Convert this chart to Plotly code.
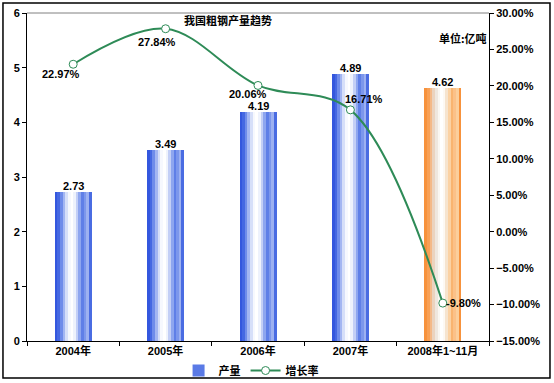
import plotly.graph_objects as go

categories = ["2004年", "2005年", "2006年", "2007年", "2008年1~11月"]
production = [2.73, 3.49, 4.19, 4.89, 4.62]
growth = [22.97, 27.84, 20.06, 16.71, -9.80]
production_labels = ["2.73", "3.49", "4.19", "4.89", "4.62"]
growth_labels = ["22.97%", "27.84%", "20.06%", "16.71%", "-9.80%"]

FONT = "Liberation Sans, Arial, Noto Sans CJK SC"
blue_stripes = ['#3457de', '#4568e2', '#6f8cea', '#a3b6f2', '#d6dff9', '#f6f8fe', '#ffffff',
                '#eef2fc', '#c3cff6', '#8ea6ef', '#5f7fe7', '#7c97ec', '#9db1f1', '#4a6ce2']
orange_stripes = ['#f7923c', '#f8a055', '#f4b988', '#ebd3bf', '#efe7df', '#faf7f3', '#ffffff',
                  '#fdf9f4', '#f6e4cf', '#fbd2a4', '#f9b46f', '#fbc188', '#fbcf9c', '#f7923c']

fig = go.Figure()
n = len(blue_stripes)
bar_w = 0.4
sw = bar_w / n
for i in range(n):
    cols = [blue_stripes[i]] * 4 + [orange_stripes[i]]
    fig.add_trace(go.Bar(
        x=categories, y=production, width=[sw * 1.08] * 5,
        offset=[-bar_w / 2 + i * sw] * 5,
        marker=dict(color=cols, line=dict(width=0)),
        showlegend=False, hoverinfo="skip"))

# legend proxy for bars
fig.add_trace(go.Bar(x=[categories[0]], y=[None], name="产量",
                     marker=dict(color="#5a7ae6", line=dict(width=0)),
                     showlegend=True))

fig.add_trace(go.Scatter(
    x=categories, y=growth, yaxis="y2", name="增长率",
    mode="lines+markers",
    line=dict(color="#2e8b57", width=2, shape="spline", smoothing=1.0),
    marker=dict(symbol="circle", size=8, color="white",
                line=dict(color="#2e8b57", width=1))))

LABEL_FONT = dict(family=FONT, size=11, color="black", weight="bold")
annotations = []
for c, v, lab in zip(categories, production, production_labels):
    annotations.append(dict(x=c, y=v, xref="x", yref="y", text=lab, showarrow=False,
                            yanchor="bottom", yshift=-1, borderpad=0, font=LABEL_FONT))

shifts = [(-12, -10), (-9, -13), (-10, -9), (14, 11), (21, 0)]
for c, g, lab, (dx, dy) in zip(categories, growth, growth_labels, shifts):
    annotations.append(dict(x=c, y=g, xref="x", yref="y2", text=lab, showarrow=False,
                            xshift=dx, yshift=dy, borderpad=0, font=LABEL_FONT))

annotations += [
    dict(text="我国粗钢产量趋势", x=0.435, y=0.979, xref="paper", yref="paper",
         showarrow=False, xanchor="center", yanchor="middle",
         font=dict(family="Noto Sans CJK SC", size=11, weight="bold")),
    dict(text="单位:亿吨", x=1.0, y=0.925, xref="paper", yref="paper",
         showarrow=False, xanchor="right", yanchor="middle",
         font=dict(family="Noto Sans CJK SC", size=11, weight="bold")),
]

fig.update_layout(
    width=554, height=383,
    margin=dict(l=27, r=65, t=13, b=42, autoexpand=False),
    paper_bgcolor="white", plot_bgcolor="white",
    barmode="overlay", bargap=0,
    font=dict(family=FONT, size=11, color="black", weight="bold"),
    xaxis=dict(type="category", showline=True, linecolor="black", linewidth=1,
               ticks="outside", tickson="boundaries", ticklen=4, tickcolor="black",
               showgrid=False, automargin=False, tickfont=dict(size=11, weight="bold")),
    yaxis=dict(range=[0, 6], dtick=1, showline=True, linecolor="black", linewidth=1,
               ticks="outside", ticklen=4, tickcolor="black", showgrid=False,
               automargin=False, zeroline=False, tickfont=dict(size=11, weight="bold")),
    yaxis2=dict(overlaying="y", side="right", range=[-15, 30], dtick=5,
                tickformat=".2f", ticksuffix="%", showline=True, linecolor="black",
                linewidth=1, ticks="outside", ticklen=4, tickcolor="black",
                showgrid=False, automargin=False, zeroline=False,
                tickfont=dict(size=11, weight="bold")),
    legend=dict(orientation="h", x=0.485, y=-0.09, xanchor="center", yanchor="middle",
                font=dict(size=11, weight="bold"), bgcolor="rgba(0,0,0,0)",
                itemwidth=30, tracegroupgap=0),
    showlegend=True,
    annotations=annotations,
    shapes=[
        dict(type="line", xref="paper", yref="paper", x0=0, x1=1, y0=1, y1=1,
             line=dict(color="#808080", width=1)),
        dict(type="rect", xref="paper", yref="paper", x0=-0.052, x1=1.132,
             y0=-0.1128, y1=1.0305, line=dict(color="black", width=1.5)),
    ],
)

fig.write_html("out.html", config={"displayModeBar": False},
               post_script="document.body.style.margin='0';document.body.style.padding='0';")
